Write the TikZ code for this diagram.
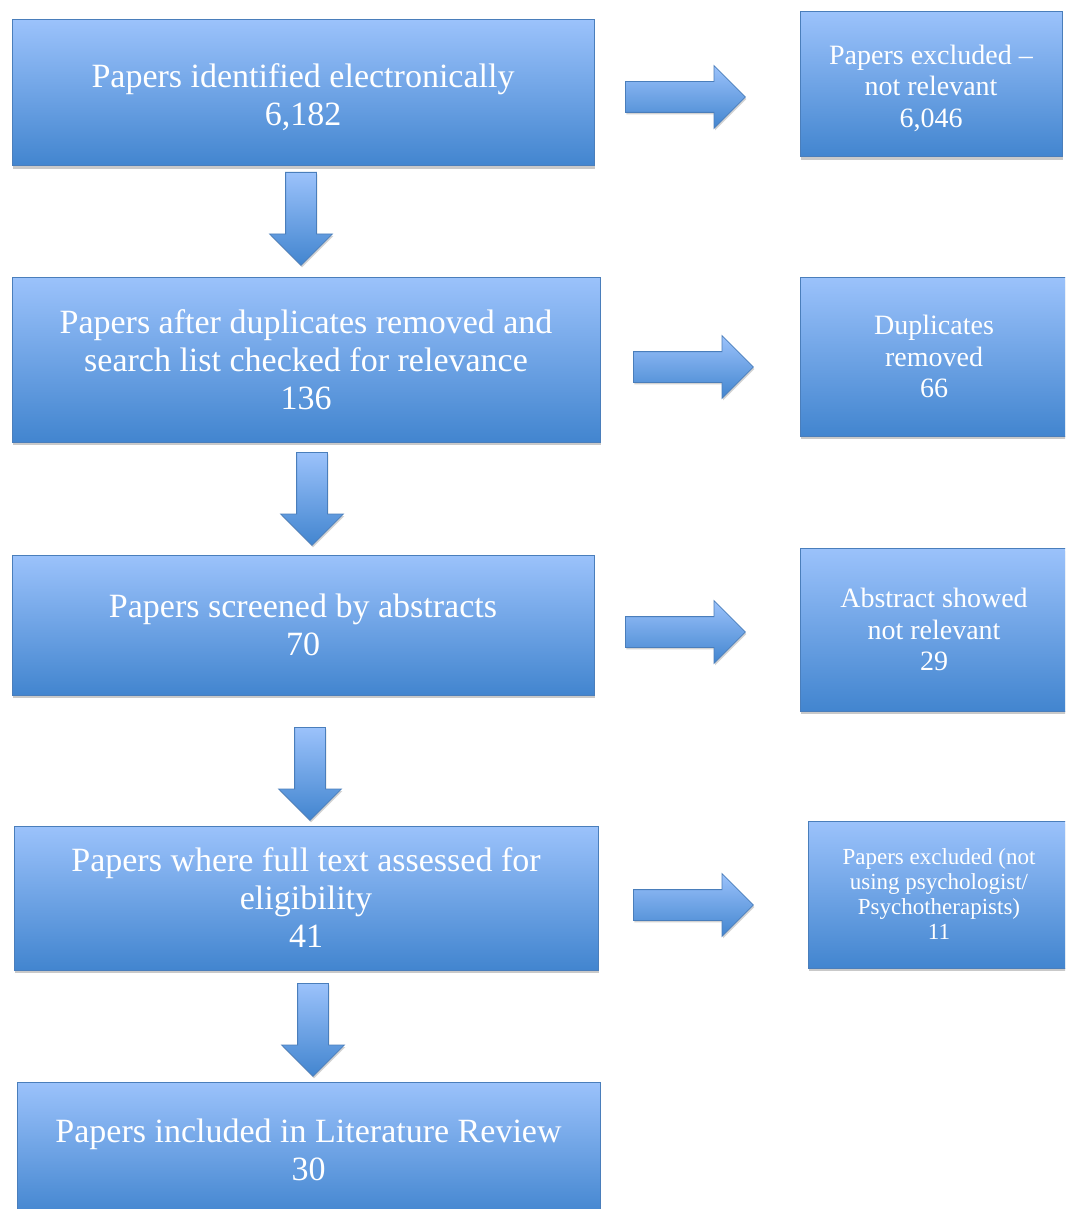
\documentclass[tikz,border=0pt]{standalone}
\usepackage{fontspec}
\setmainfont{Liberation Serif}
\usepackage{xcolor}
\usetikzlibrary{shapes.arrows,shadows}
\definecolor{boxtop}{RGB}{155,194,251}
\definecolor{boxmid}{RGB}{126,172,238}
\definecolor{boxbottom}{RGB}{66,133,207}
\definecolor{boxline}{RGB}{74,126,187}
\tikzstyle{box}=[rectangle, draw=boxline, line width=1pt, top color=boxtop, middle color=boxmid, bottom color=boxbottom, text=white, align=center, inner sep=0pt, drop shadow={shadow xshift=1pt, shadow yshift=-3pt, opacity=.3, fill=black!70}]
\tikzstyle{bigtext}=[font=\fontsize{34}{38}\selectfont]
\tikzstyle{sidetext}=[font=\fontsize{28}{31.5}\selectfont]
\tikzstyle{smalltext}=[font=\fontsize{23}{25}\selectfont]
\tikzstyle{blockarrow}=[single arrow, draw=boxline, line width=.8pt, single arrow head extend=16pt, single arrow head indent=0pt, inner xsep=0pt, inner ysep=15pt, minimum height=120pt, anchor=tail, top color=boxtop, bottom color=boxbottom, drop shadow={shadow xshift=1pt, shadow yshift=-2pt, opacity=.25, fill=black!70}]
\tikzstyle{rightarrow}=[blockarrow]
\tikzstyle{downarrow}=[blockarrow, minimum height=93pt, rotate=-90]
\newcommand{\lowerstrut}{\rule{0pt}{0.95em}}

\begin{document}
\begin{tikzpicture}[x=1pt,y=-1pt]
  \path[use as bounding box, clip] (0,0) rectangle (1065,1209);

  %% Main column
  \draw (303,93) node[box,bigtext,minimum width=582pt,minimum height=146pt] (B1) {\lowerstrut Papers identified electronically\\6,182};
  \draw (306,359.5) node[box,bigtext,minimum width=588pt,minimum height=165pt] (B2) {Papers after duplicates removed and\\search list checked for relevance\\136};
  \draw (303,625) node[box,bigtext,minimum width=582pt,minimum height=140pt] (B3) {Papers screened by abstracts\\70};
  \draw (306,898) node[box,bigtext,minimum width=584pt,minimum height=144pt] (B4) {Papers where full text assessed for\\eligibility\\41};
  \draw (308.5,1149.5) node[box,bigtext,minimum width=583pt,minimum height=135pt] (B5) {Papers included in Literature Review\\30};

  %% Excluded column
  \draw (931,84.5) node[box,sidetext,minimum width=262pt,minimum height=145pt] (R1) {\lowerstrut Papers excluded --\\not relevant\\6,046};
  \draw (934,356.5) node[box,sidetext,minimum width=268pt,minimum height=159pt] (R2) {Duplicates\\removed\\66};
  \draw (934,629.5) node[box,sidetext,minimum width=268pt,minimum height=163pt] (R3) {Abstract showed\\not relevant\\29};
  \draw (939,894.5) node[box,smalltext,minimum width=262pt,minimum height=147pt] (R4) {Papers excluded (not\\using psychologist/\\Psychotherapists)\\11};

  %% Arrows down
  \draw (301,172) node[downarrow] (D1) {};
  \draw (312,452) node[downarrow] (D2) {};
  \draw (310,727) node[downarrow] (D3) {};
  \draw (313,983) node[downarrow] (D4) {};

  %% Arrows right
  \draw (625,97) node[rightarrow] (A1) {};
  \draw (633,367) node[rightarrow] (A2) {};
  \draw (625,632) node[rightarrow] (A3) {};
  \draw (633,905) node[rightarrow] (A4) {};
\end{tikzpicture}
\end{document}
